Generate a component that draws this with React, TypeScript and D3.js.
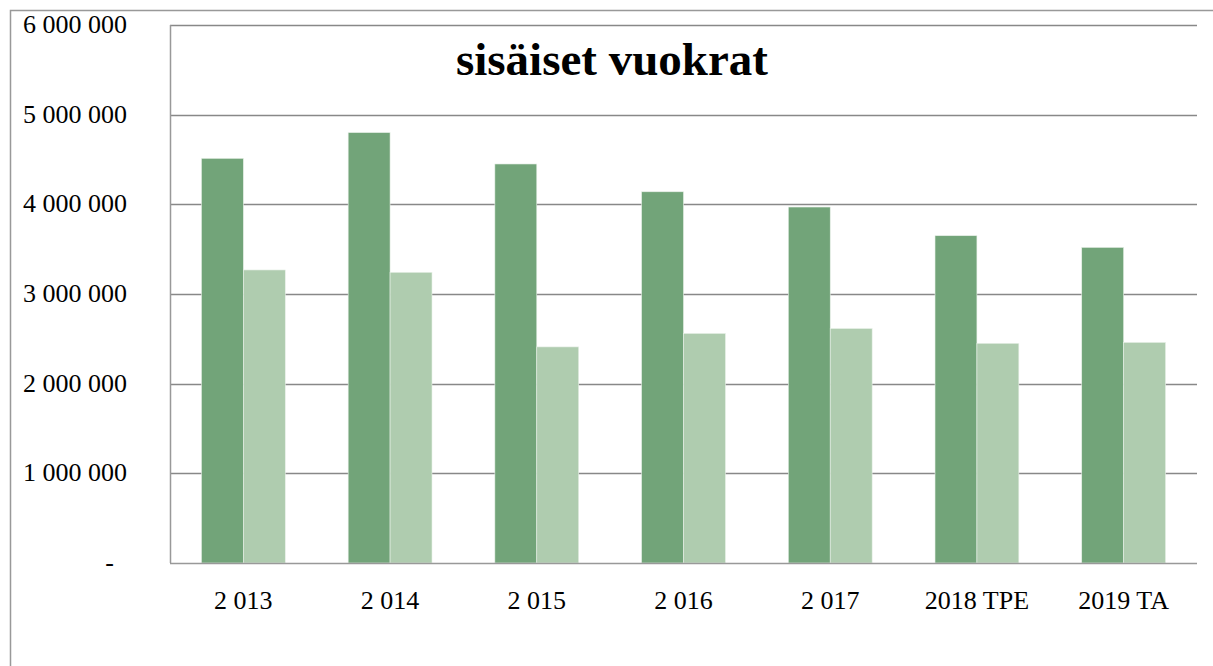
import React from "react";
import * as d3 from "d3";

const categories = ["2 013", "2 014", "2 015", "2 016", "2 017", "2018 TPE", "2019 TA"];
const seriesA = [4513000, 4800000, 4450000, 4140000, 3970000, 3650000, 3520000];
const seriesB = [3268000, 3242000, 2410000, 2560000, 2615000, 2450000, 2460000];
const yTicks = [0, 1000000, 2000000, 3000000, 4000000, 5000000, 6000000];
const yTickLabels = ["-", "1 000 000", "2 000 000", "3 000 000", "4 000 000", "5 000 000", "6 000 000"];

const W = 1213;
const H = 666;
const left = 170;
const right = 1197;
const top = 25;
const bottom = 563;

export default function App() {
  const x = d3.scaleBand<string>().domain(categories).range([left, right]).paddingInner(0).paddingOuter(0);
  const y = d3.scaleLinear().domain([0, 6000000]).range([bottom, top]);
  const band = x.bandwidth();
  const barW = band / 3.5; // gap width 150%
  const font = "'Liberation Serif', 'Times New Roman', serif";

  return (
    <svg width={W} height={H} style={{ position: "absolute", left: 0, top: 0 }}>
      <rect x={10.5} y={10.5} width={W + 10} height={H + 10} fill="white" stroke="#999" strokeWidth={1.5} />
      {yTicks.slice(1).map((t) => (
        <line key={t} x1={left} x2={right} y1={Math.round(y(t)) + 0.5} y2={Math.round(y(t)) + 0.5} stroke="#888" strokeWidth={1.5} />
      ))}
      {categories.map((c, i) => {
        const cx = (x(c) as number) + band / 2;
        return (
          <g key={c}>
            <rect x={cx - barW} y={y(seriesA[i])} width={barW} height={bottom - y(seriesA[i])} fill="#72A479" stroke="#e8f0e8" strokeWidth={0.6} />
            <rect x={cx} y={y(seriesB[i])} width={barW} height={bottom - y(seriesB[i])} fill="#AFCCAF" stroke="#e8f0e8" strokeWidth={0.6} />
            <text x={cx} y={609} textAnchor="middle" fontFamily={font} fontSize={26} fill="#000">{c}</text>
          </g>
        );
      })}
      <line x1={left + 0.5} x2={left + 0.5} y1={top} y2={bottom} stroke="#999" strokeWidth={1.5} />
      <line x1={left} x2={right} y1={bottom + 0.5} y2={bottom + 0.5} stroke="#999" strokeWidth={1.5} />
      {yTicks.map((t, i) => (
        <text key={t} x={t === 0 ? 114 : 127} y={y(t) + 8} textAnchor="end" fontFamily={font} fontSize={26} fill="#000">{yTickLabels[i]}</text>
      ))}
      <text x={612} y={75} textAnchor="middle" fontFamily={font} fontWeight="bold" fontSize={47} fill="#000">sisäiset vuokrat</text>
    </svg>
  );
}
